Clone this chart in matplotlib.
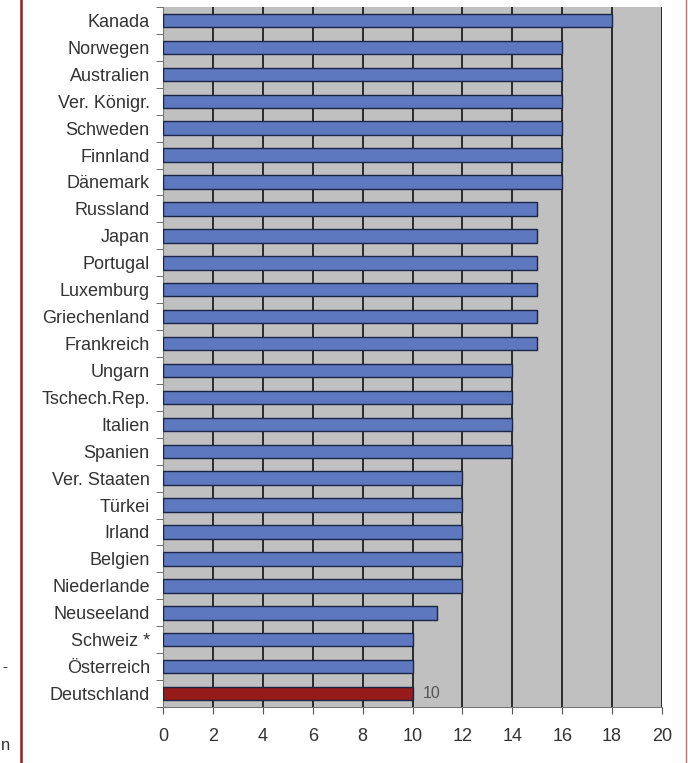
import matplotlib.pyplot as plt
import numpy as np

plt.rcParams['font.family'] = ['Liberation Sans', 'DejaVu Sans']
plt.rcParams['font.size'] = 13

# data, top to bottom
laender = ['Kanada', 'Norwegen', 'Australien', 'Ver. Königr.', 'Schweden', 'Finnland',
           'Dänemark', 'Russland', 'Japan', 'Portugal', 'Luxemburg', 'Griechenland',
           'Frankreich', 'Ungarn', 'Tschech.Rep.', 'Italien', 'Spanien', 'Ver. Staaten',
           'Türkei', 'Irland', 'Belgien', 'Niederlande', 'Neuseeland', 'Schweiz *',
           'Österreich', 'Deutschland']
werte = [18, 16, 16, 16, 16, 16, 16, 15, 15, 15, 15, 15, 15, 14, 14, 14, 14,
         12, 12, 12, 12, 12, 11, 10, 10, 10]
x_ticks = [0, 2, 4, 6, 8, 10, 12, 14, 16, 18, 20]

fig = plt.figure(figsize=(6.88, 7.63), dpi=100)
W, H = 688, 763
ax = fig.add_axes([163 / W, 1 - 707 / H, (662 - 163) / W, (707 - 7) / H])

n = len(laender)
pos = np.arange(n)
farben = ['#5d78be'] * n
farben[-1] = '#971b1b'
ax.barh(pos, werte, height=0.5, color=farben, edgecolor='#1c2448', linewidth=1.0, zorder=3)

ax.set_facecolor('#c0c0c0')
ax.set_xlim(0, 20)
ax.set_ylim(n - 0.5, -0.5)
ax.set_xticks(x_ticks)
ax.set_xticklabels([str(t) for t in x_ticks], color='#333333')
ax.xaxis.grid(True, color='#2a2a2a', linewidth=1.4, zorder=1)
ax.set_axisbelow(True)

# category labels, ticks between categories
ax.set_yticks(pos)
ax.set_yticklabels(laender, color='#333333')
ax.tick_params(axis='y', length=0, pad=9.5)
ax.set_yticks(np.arange(n + 1) - 0.5, minor=True)
ax.tick_params(axis='y', which='minor', length=5, color='#555555')
ax.tick_params(axis='x', length=5, color='#555555', pad=10)

for s in ['top', 'right']:
    ax.spines[s].set_visible(False)
ax.spines['left'].set_color('#777777')
ax.spines['bottom'].set_color('#777777')

ax.text(werte[-1] + 0.4, pos[-1], '10', va='center', ha='left', color='#555555', fontsize=11.5)

# page frame lines
fig.add_artist(plt.Line2D([21 / W, 21 / W], [0, 1], color='#9b1c1c', linewidth=1.8))
fig.add_artist(plt.Line2D([686 / W, 686 / W], [0, 1], color='#c07070', linewidth=1.0))
fig.text(2 / W, 1 - 667 / H, '-', fontsize=11, va='center', color='#333333')
fig.text(1 / W, 1 - 745 / H, 'n', fontsize=12, va='center', color='#333333')

plt.savefig('out.png', dpi=100)
